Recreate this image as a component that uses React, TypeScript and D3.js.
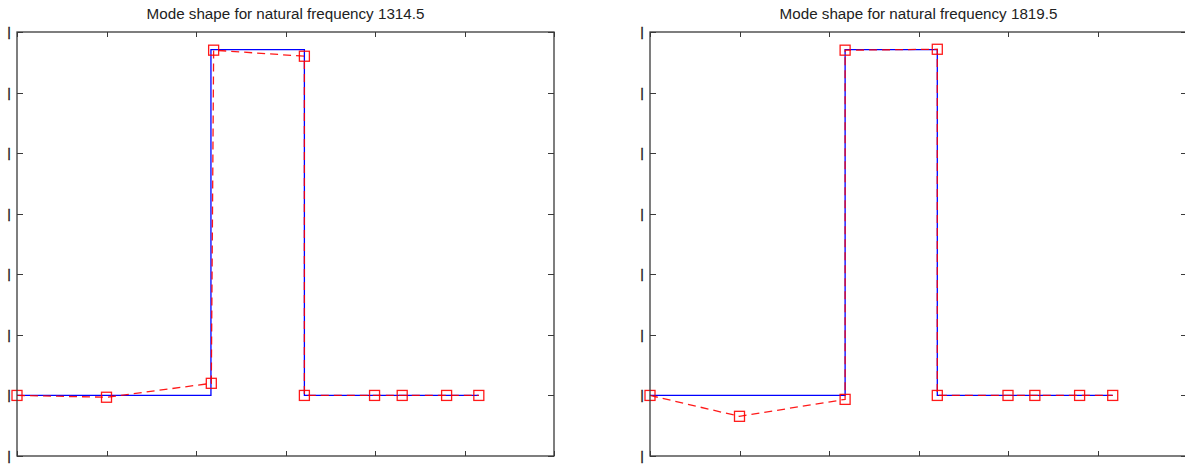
import React from "react";
import * as d3 from "d3";

const xTicks = [0, 1, 2, 3, 4, 5, 6];
const yTicks = [-0.2, 0, 0.2, 0.4, 0.6, 0.8, 1.0, 1.2];
const yTickLabels = ["|", "|", "|", "|", "|", "|", "|", "|"];
const titles = [
  "Mode shape for natural frequency 1314.5",
  "Mode shape for natural frequency 1819.5",
];

// exact mode shape (blue solid)
const exactX1 = [0, 2.167, 2.167, 3.211, 3.211, 5.16];
const exactY1 = [0, 0, 1.142, 1.142, 0, 0];
const exactX2 = [0, 2.18, 2.18, 3.21, 3.21, 5.17];
const exactY2 = [0, 0, 1.142, 1.142, 0, 0];

// approximate mode shape (red dashed with square markers)
const approxX1 = [0, 1.0, 2.171, 2.197, 3.211, 3.211, 3.995, 4.304, 4.8, 5.16];
const approxY1 = [0, -0.006, 0.04, 1.14, 1.12, 0, 0, 0, 0, 0];
const approxX2 = [0, 1.0, 2.18, 2.18, 3.21, 3.21, 4.0, 4.3, 4.8, 5.17];
const approxY2 = [0, -0.069, -0.013, 1.14, 1.143, 0, 0, 0, 0, 0];

const panels = [
  { left: 17, right: 554, title: titles[0], ex: exactX1, ey: exactY1, ax: approxX1, ay: approxY1 },
  { left: 650, right: 1187, title: titles[1], ex: exactX2, ey: exactY2, ax: approxX2, ay: approxY2 },
];

const TOP = 32;
const BOTTOM = 456;

function Panel({ p }: { p: (typeof panels)[number] }) {
  const x = d3.scaleLinear().domain([0, 6]).range([p.left, p.right]);
  const y = d3.scaleLinear().domain([-0.2, 1.2]).range([BOTTOM, TOP]);
  const line = d3
    .line<[number, number]>()
    .x((d) => x(d[0]))
    .y((d) => y(d[1]));
  const exact: [number, number][] = p.ex.map((v, i) => [v, p.ey[i]]);
  const approx: [number, number][] = p.ax.map((v, i) => [v, p.ay[i]]);
  const axisColor = "#3a3a3a";
  const tl = 5;
  return (
    <g>
      <text
        x={(p.left + p.right) / 2}
        y={19}
        textAnchor="middle"
        fontFamily="'Liberation Sans', Arial, sans-serif"
        fontSize={15.2}
        fill="#222"
      >
        {p.title}
      </text>
      {/* y tick labels */}
      {yTicks.map((t, i) => (
        <text
          key={"yl" + i}
          x={p.left - 8}
          y={y(t)}
          textAnchor="middle"
          dominantBaseline="central"
          fontFamily="'Liberation Sans', Arial, sans-serif"
          fontSize={12}
          fill="#222"
          stroke="#222"
          strokeWidth={0.5}
        >
          {yTickLabels[i]}
        </text>
      ))}
      {/* ticks */}
      {xTicks.map((t, i) => (
        <g key={"xt" + i} stroke={axisColor} strokeWidth={1}>
          <line x1={Math.round(x(t)) + 0.5} x2={Math.round(x(t)) + 0.5} y1={BOTTOM} y2={BOTTOM - tl} />
          <line x1={Math.round(x(t)) + 0.5} x2={Math.round(x(t)) + 0.5} y1={TOP} y2={TOP + tl} />
        </g>
      ))}
      {yTicks.map((t, i) => (
        <g key={"yt" + i} stroke={axisColor} strokeWidth={1}>
          <line x1={p.left} x2={p.left + tl + 1} y1={Math.round(y(t)) + 0.5} y2={Math.round(y(t)) + 0.5} />
          <line x1={p.right} x2={p.right - tl - 1} y1={Math.round(y(t)) + 0.5} y2={Math.round(y(t)) + 0.5} />
        </g>
      ))}
      {/* data */}
      <path d={line(exact) || ""} fill="none" stroke="#0000ff" strokeWidth={1.3} />
      <path
        d={line(approx) || ""}
        fill="none"
        stroke="#ff0000"
        strokeWidth={1.3}
        strokeDasharray="8,5"
        opacity={0.9}
      />
      {approx.map((d, i) => (
        <rect
          key={"m" + i}
          x={x(d[0]) - 5}
          y={y(d[1]) - 5}
          width={10}
          height={10}
          fill="none"
          stroke="#ff0000"
          strokeWidth={1.3}
          opacity={0.9}
        />
      ))}
      {/* axes box */}
      <rect
        x={p.left}
        y={TOP}
        width={p.right - p.left}
        height={BOTTOM - TOP}
        fill="none"
        stroke={axisColor}
        strokeWidth={1.3}
      />
    </g>
  );
}

export default function App() {
  return (
    <svg
      width={1185}
      height={470}
      style={{ position: "absolute", left: 0, top: 0, background: "#fff" }}
    >
      <rect x={0} y={0} width={1185} height={470} fill="#fff" />
      {panels.map((p, i) => (
        <Panel key={i} p={p} />
      ))}
    </svg>
  );
}
